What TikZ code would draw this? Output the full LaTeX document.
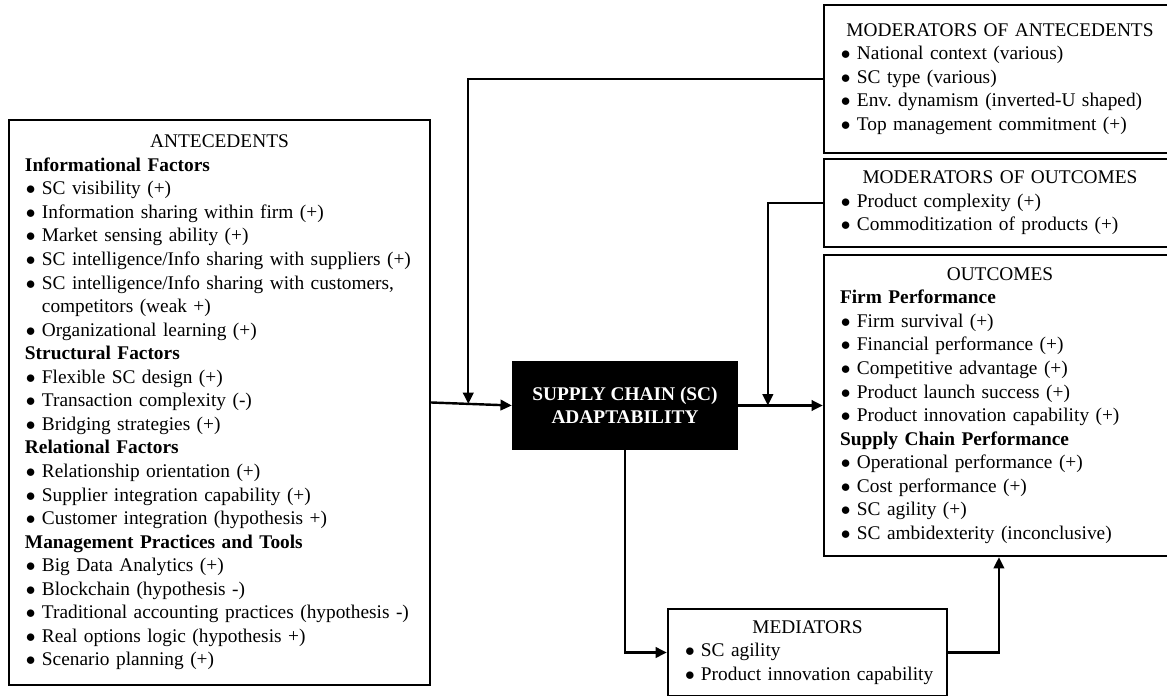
\documentclass[tikz,border=0pt]{standalone}
\usepackage{fontspec}
\setmainfont{Liberation Serif}
\usetikzlibrary{arrows.meta,calc,positioning}
\setlength{\parindent}{0pt}
\setlength{\parskip}{0pt}
\frenchspacing
\newcommand{\bulitem}[1]{\makebox[10.5pt][l]{\hspace{0.6pt}$\bullet$}\mbox{#1}}
\newcommand{\bulcont}[1]{\hspace*{10.5pt}\mbox{#1}}
\tikzset{
    % Base style for all framed boxes
    frame base/.style={
        rectangle,
        draw=black,
        line width=1.5pt,
        inner xsep=9.9pt,
        inner ysep=0pt,
        font=\fontsize{12pt}{14.6pt}\selectfont,
    },
    % Boxes with a centred title and a bullet list
    listbox/.style={
        frame base,
        align=left,
        text width=#1,
    },
    % The central construct - black box, white bold text
    core/.style={
        frame base,
        fill=black,
        text=white,
        align=center,
        font=\fontsize{12pt}{14.6pt}\selectfont\bfseries,
        minimum width=138.9pt,
        minimum height=54pt,
    },
    % Connector with a filled head
    arrow/.style={
        -{Triangle[length=7pt, width=6.5pt]},
        line width=1.5pt,
    },
}
\begin{document}
\begin{tikzpicture}[x=0.62pt, y=-0.62pt]
    \useasboundingbox (0,0) rectangle (1167,696);
    \clip (0,0) rectangle (1167,696);

    \node (ant) [listbox=241.2pt, minimum height=350.3pt] at (219.5,402.5) {%
        {\centering ANTECEDENTS\par}
        \textbf{Informational Factors}\\
        \bulitem{SC visibility (+)}\\
        \bulitem{Information sharing within firm (+)}\\
        \bulitem{Market sensing ability (+)}\\
        \bulitem{SC intelligence/Info sharing with suppliers (+)}\\
        \bulitem{SC intelligence/Info sharing with customers,}\\
        \bulcont{competitors (weak +)}\\
        \bulitem{Organizational learning (+)}\\
        \textbf{Structural Factors}\\
        \bulitem{Flexible SC design (+)}\\
        \bulitem{Transaction complexity (-)}\\
        \bulitem{Bridging strategies (+)}\\
        \textbf{Relational Factors}\\
        \bulitem{Relationship orientation (+)}\\
        \bulitem{Supplier integration capability (+)}\\
        \bulitem{Customer integration (hypothesis +)}\\
        \textbf{Management Practices and Tools}\\
        \bulitem{Big Data Analytics (+)}\\
        \bulitem{Blockchain (hypothesis -)}\\
        \bulitem{Traditional accounting practices (hypothesis -)}\\
        \bulitem{Real options logic (hypothesis +)}\\
        \bulitem{Scenario planning (+)}};
    \node (moa) [listbox=198.4pt, minimum height=91.8pt] at (1000,79) {%
        {\centering MODERATORS OF ANTECEDENTS\par}
        \bulitem{National context (various)}\\
        \bulitem{SC type (various)}\\
        \bulitem{Env. dynamism (inverted-U shaped)}\\
        \bulitem{Top management commitment (+)}};
    \node (moo) [listbox=198.4pt, minimum height=54.6pt] at (1000,203) {%
        {\centering MODERATORS OF OUTCOMES\par}
        \bulitem{Product complexity (+)}\\
        \bulitem{Commoditization of products (+)}};
    \node (out) [listbox=198.4pt, minimum height=186.6pt] at (1000,405.5) {%
        {\centering OUTCOMES\par}
        \textbf{Firm Performance}\\
        \bulitem{Firm survival (+)}\\
        \bulitem{Financial performance (+)}\\
        \bulitem{Competitive advantage (+)}\\
        \bulitem{Product launch success (+)}\\
        \bulitem{Product innovation capability (+)}\\
        \textbf{Supply Chain Performance}\\
        \bulitem{Operational performance (+)}\\
        \bulitem{Cost performance (+)}\\
        \bulitem{SC agility (+)}\\
        \bulitem{SC ambidexterity (inconclusive)}};
    \node (med) [listbox=153.1pt, minimum height=54pt] at (807.5,652.5) {%
        {\centering MEDIATORS\par}
        \bulitem{SC agility}\\
        \bulitem{Product innovation capability}};
    \node (sca) [core] at (625,405.5) {SUPPLY CHAIN (SC)\\ADAPTABILITY};

    \coordinate (antjoin) at ($(ant.east)!0.46!(sca.west)$);
    \coordinate (outjoin) at ($(sca.east)!0.35!(out.west)$);
    \coordinate (outup) at ($(out.south west)!0.497!(out.south east)$);

    \draw [arrow] (ant.east) -- (sca.west);
    \draw [arrow] (sca.east) -- (out.west);
    \draw [arrow] (moa.west) -| (antjoin);
    \draw [arrow] (moo.west) -| (outjoin);
    \draw [arrow] (sca.south) |- (med.west);
    \draw [arrow] (med.east) -| (outup);
\end{tikzpicture}
\end{document}
